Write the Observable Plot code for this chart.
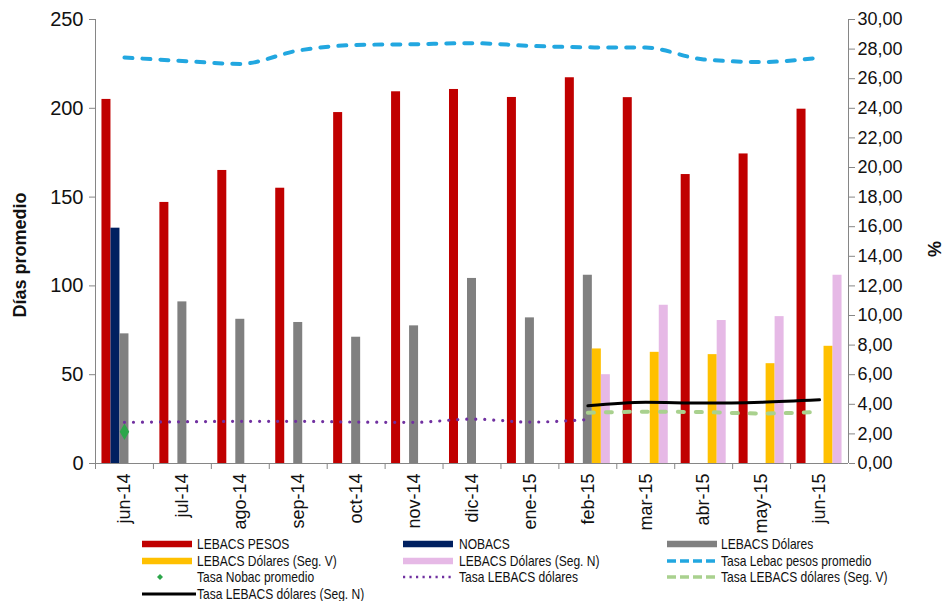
<!DOCTYPE html>
<html>
<head>
<meta charset="utf-8">
<script src="https://cdn.jsdelivr.net/npm/d3@7"></script>
<script src="https://cdn.jsdelivr.net/npm/@observablehq/plot@0.6"></script>
<style>
  body { margin: 0; background: #fff; }
  #wrap { position: relative; width: 944px; height: 601px; overflow: hidden; font-family: "Liberation Sans", Arial, sans-serif; color: #111; }
  #wrap svg.plot { position: absolute; left: 0; top: 0; }
  .ytitle { position: absolute; font-weight: bold; font-size: 18px; white-space: nowrap; transform: translate(-50%, -50%) rotate(-90deg); }
  .lg-text { position: absolute; font-family: "Liberation Sans Narrow", "Arial Narrow", "Liberation Sans", sans-serif; font-size: 14.5px; line-height: 1; white-space: nowrap; transform-origin: left center; transform: translateY(-50%) scaleX(0.83); color: #111; }
  .lg-sw { position: absolute; }
</style>
</head>
<body>
<div id="wrap"></div>
<script>
// Months on the category axis
const months = ["jun-14", "jul-14", "ago-14", "sep-14", "oct-14", "nov-14", "dic-14", "ene-15", "feb-15", "mar-15", "abr-15", "may-15", "jun-15"];

// Average term in days (left axis)
const lebacsPesos       = [205, 147, 165, 155, 197.6, 209.3, 210.6, 206.1, 217.2, 206, 162.7, 174.3, 199.5];
const nobacs            = [132.5, null, null, null, null, null, null, null, null, null, null, null, null];
const lebacsDolares     = [73, 91, 81.2, 79.4, 71.1, 77.5, 104.2, 82, 106, null, null, null, null];
const lebacsDolaresSegV = [null, null, null, null, null, null, null, null, 64.5, 62.6, 61.3, 56.2, 66];
const lebacsDolaresSegN = [null, null, null, null, null, null, null, null, 50, 89.1, 80.5, 82.7, 106];

// Average rates in % (right axis)
const tasaLebacPesos    = [27.43, 27.2, 27.0, 27.9, 28.28, 28.33, 28.4, 28.22, 28.12, 28.1, 27.3, 27.13, 27.42];
const tasaNobac         = [2.15, null, null, null, null, null, null, null, null, null, null, null, null];
const tasaLebacsDolares = [2.78, 2.82, 2.85, 2.85, 2.8, 2.78, 3.0, 2.8, 2.97, null, null, null, null];
const tasaSegV          = [null, null, null, null, null, null, null, null, 3.43, 3.5, 3.47, 3.38, 3.5];
const tasaSegN          = [null, null, null, null, null, null, null, null, 3.9, 4.14, 4.08, 4.14, 4.3];

// Axis ticks
const dayTicks = [0, 50, 100, 150, 200, 250];
const pctTicks = [0, 2, 4, 6, 8, 10, 12, 14, 16, 18, 20, 22, 24, 26, 28, 30];

const W = 944, H = 532;
const mL = 95, mR = 96, mT = 19, mB = 69;
const K = 250 / 30;                      // % -> left-axis units
const bw = (W - mL - mR) / months.length; // band width
const gap = 6.46, slot = 9;              // cluster padding and bar width
const axisGray = "#868686";

const rows = vals => months.map((m, i) => ({month: m, value: vals[i]})).filter(d => d.value != null);

const bars = [
  {values: lebacsPesos, color: "#c00000"},
  {values: nobacs, color: "#002060"},
  {values: lebacsDolares, color: "#808080"},
  {values: lebacsDolaresSegV, color: "#ffc000"},
  {values: lebacsDolaresSegN, color: "#e6b9e6"}
];

const barMarks = bars.map((s, i) => Plot.barY(rows(s.values), {
  x: "month", y: "value", fill: s.color,
  insetLeft: gap + slot * i,
  insetRight: bw - gap - slot * (i + 1)
}));

const pct = d => d.value * K;

const chart = Plot.plot({
  width: W, height: H,
  marginLeft: mL, marginRight: mR, marginTop: mT, marginBottom: mB,
  x: {type: "band", domain: months, padding: 0, round: false, label: null},
  y: {domain: [0, 250], label: null},
  style: {fontFamily: "'Liberation Sans', Arial, sans-serif", color: "#111", background: "transparent", overflow: "visible"},
  marks: [
    ...barMarks,
    Plot.lineY(rows(tasaLebacPesos), {x: "month", y: pct, stroke: "#22a7e0", strokeWidth: 4, strokeDasharray: "8,10", strokeLinecap: "round", curve: "monotone-x"}),
    Plot.lineY(rows(tasaLebacsDolares), {x: "month", y: pct, stroke: "#7030a0", strokeWidth: 3.2, strokeDasharray: "0.01,9", strokeLinecap: "round", curve: "monotone-x"}),
    Plot.lineY(rows(tasaSegV), {x: "month", y: pct, stroke: "#a9d18e", strokeWidth: 4, strokeDasharray: "6,12", strokeLinecap: "round", curve: "monotone-x"}),
    Plot.lineY(rows(tasaSegN), {x: "month", y: pct, stroke: "#000", strokeWidth: 3, curve: "monotone-x"}),
    Plot.dot(rows(tasaNobac), {x: "month", y: pct, symbol: "diamond", r: 5, fill: "#2ca64a", stroke: "none"}),
    // axis lines
    Plot.ruleY([0], {stroke: axisGray}),
    Plot.ruleX([months[0]], {dx: -bw / 2, stroke: axisGray}),
    Plot.ruleX([months[months.length - 1]], {dx: bw / 2, stroke: axisGray}),
    // left axis (days)
    Plot.axisY({anchor: "left", ticks: dayTicks, tickSize: 6, tickPadding: 6, fontSize: 20, stroke: axisGray, fill: "#111", label: null}),
    // right axis (%)
    Plot.axisY({anchor: "right", ticks: pctTicks.map(p => p * K), tickFormat: v => (v / K).toFixed(2).replace(".", ","), tickSize: 6, tickPadding: 3, fontSize: 18, stroke: axisGray, fill: "#111", label: null}),
    // category ticks at band edges, labels at band centres
    Plot.axisX({anchor: "bottom", tickSize: 6, tickFormat: () => "", dx: -bw / 2, stroke: axisGray, label: null}),
    Plot.axisX({anchor: "bottom", tickSize: 0, tickPadding: 10, tickRotate: -90, fontSize: 18, fill: "#111", label: null})
  ]
});
chart.classList.add("plot");

const wrap = document.getElementById("wrap");
wrap.appendChild(chart);

// Axis titles
function addTitle(text, x, y) {
  const el = document.createElement("div");
  el.className = "ytitle";
  el.textContent = text;
  el.style.left = x + "px";
  el.style.top = y + "px";
  wrap.appendChild(el);
}
addTitle("Días promedio", 19.5, 255);
addTitle("%", 935, 249);

// Legend
const colSw = [141.7, 403.3, 666.7];
const colTx = [196.7, 459.3, 721];
const rowY = [544, 561, 577, 593.5];
const legendItems = [
  {label: "LEBACS PESOS", col: 0, row: 0, kind: "bar", color: "#c00000"},
  {label: "NOBACS", col: 1, row: 0, kind: "bar", color: "#002060"},
  {label: "LEBACS Dólares", col: 2, row: 0, kind: "bar", color: "#808080"},
  {label: "LEBACS Dólares (Seg. V)", col: 0, row: 1, kind: "bar", color: "#ffc000"},
  {label: "LEBACS Dólares (Seg. N)", col: 1, row: 1, kind: "bar", color: "#e6b9e6"},
  {label: "Tasa Lebac pesos promedio", col: 2, row: 1, kind: "dash", color: "#22a7e0"},
  {label: "Tasa Nobac promedio", col: 0, row: 2, kind: "diamond", color: "#2ca64a"},
  {label: "Tasa LEBACS dólares", col: 1, row: 2, kind: "dot", color: "#7030a0"},
  {label: "Tasa LEBACS dólares (Seg. V)", col: 2, row: 2, kind: "dash", color: "#a9d18e"},
  {label: "Tasa LEBACS dólares (Seg. N)", col: 0, row: 3, kind: "solid", color: "#000"}
];
const NS = "http://www.w3.org/2000/svg";
for (const it of legendItems) {
  const x0 = colSw[it.col], y0 = rowY[it.row];
  const sw = document.createElementNS(NS, "svg");
  const swW = it.kind === "solid" ? 54 : 50;
  sw.setAttribute("width", swW);
  sw.setAttribute("height", 14);
  sw.setAttribute("class", "lg-sw");
  sw.style.left = x0 + "px";
  sw.style.top = (y0 - 7) + "px";
  if (it.kind === "diamond") {
    const p = document.createElementNS(NS, "path");
    p.setAttribute("d", "M18,4 L21,7 L18,10 L15,7 Z");
    p.setAttribute("fill", it.color);
    sw.appendChild(p);
  } else {
    const l = document.createElementNS(NS, "line");
    l.setAttribute("x1", 0); l.setAttribute("x2", swW);
    l.setAttribute("y1", 7); l.setAttribute("y2", 7);
    l.setAttribute("stroke", it.color);
    if (it.kind === "bar") l.setAttribute("stroke-width", 6.5);
    if (it.kind === "dash") { l.setAttribute("stroke-width", 3.5); l.setAttribute("stroke-dasharray", "9,4"); }
    if (it.kind === "dot") { l.setAttribute("stroke-width", 2.5); l.setAttribute("stroke-dasharray", "2.2,4.3"); }
    if (it.kind === "solid") l.setAttribute("stroke-width", 3);
    sw.appendChild(l);
  }
  wrap.appendChild(sw);
  const t = document.createElement("div");
  t.className = "lg-text";
  t.textContent = it.label;
  t.style.left = colTx[it.col] + "px";
  t.style.top = y0 + "px";
  wrap.appendChild(t);
}
</script>
</body>
</html>
